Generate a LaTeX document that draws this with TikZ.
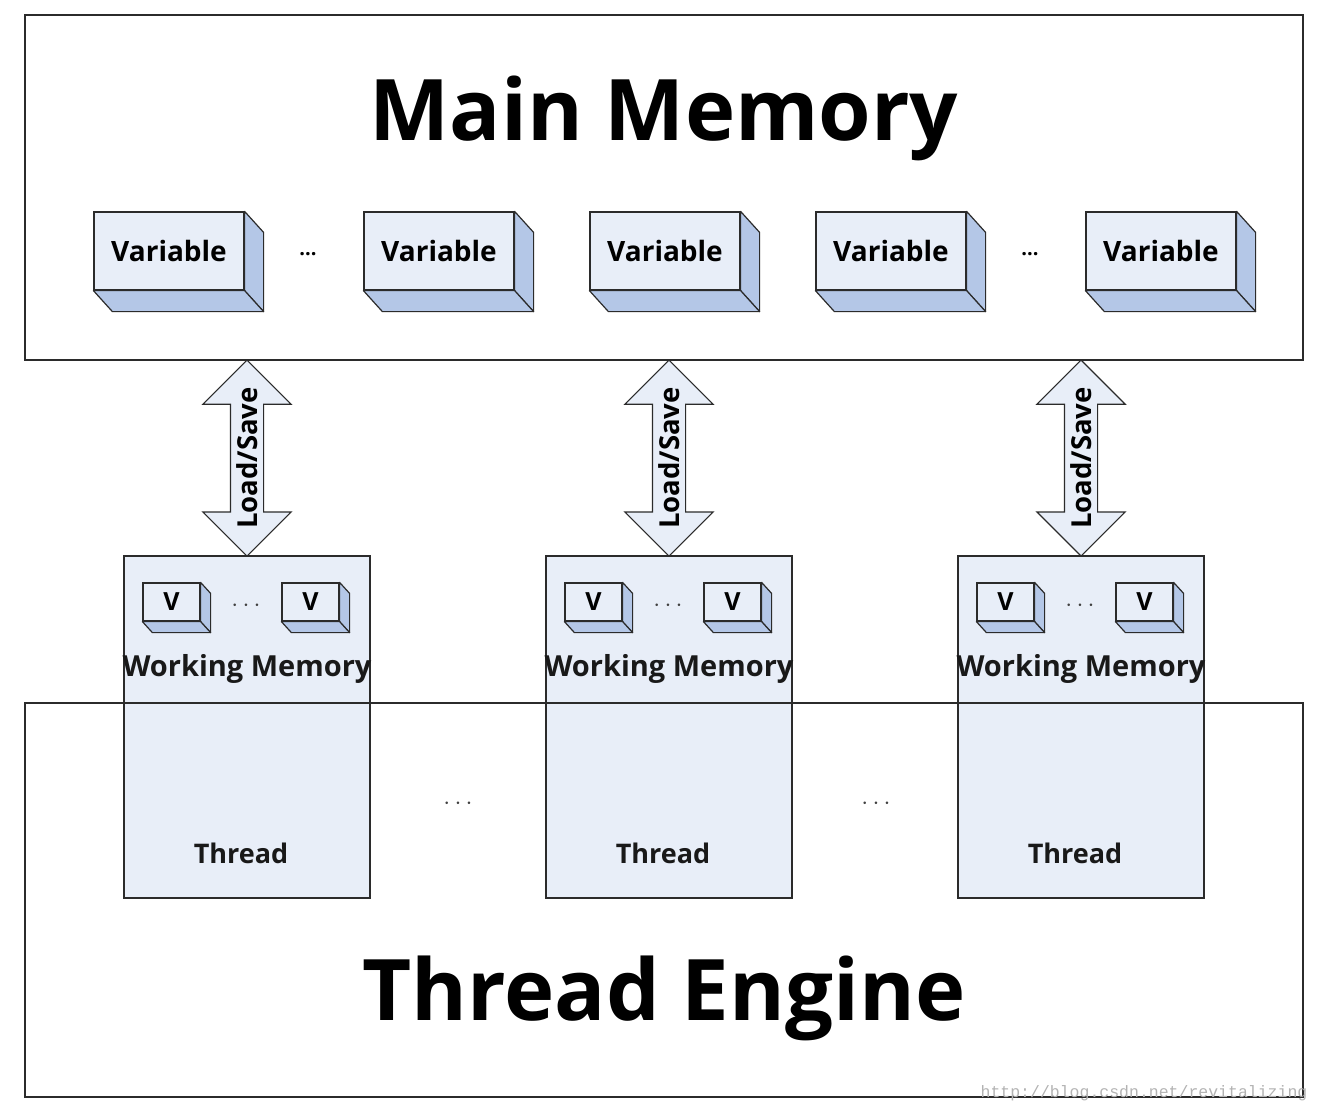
\documentclass[tikz,border=0pt]{standalone}
\usepackage{fontspec}
\setmainfont{Open Sans}
\setmonofont{Liberation Mono}
\usetikzlibrary{positioning,calc,shapes.arrows}

\definecolor{frontc}{HTML}{E8EEF8}
\definecolor{sidec}{HTML}{B4C7E7}
\definecolor{linec}{HTML}{2B2B2B}

\tikzset{
  face/.style={draw=linec, fill=frontc, line width=1.2pt},
  side/.style={draw=linec, fill=sidec, line width=1.2pt, line join=round},
  memrect/.style={draw=linec, line width=1.6pt, inner sep=0pt},
  varbox/.style={face, minimum width=150pt, minimum height=78pt, inner sep=0pt,
    font=\fontsize{28}{28}\selectfont\bfseries},
  vbox/.style={face, minimum width=57pt, minimum height=38pt, inner sep=0pt,
    font=\fontsize{25}{25}\selectfont\bfseries},
  thread/.style={face, minimum width=246pt, minimum height=342pt, inner sep=0pt},
  lsarrow/.style={double arrow, face, double arrow head extend=27.5pt,
    double arrow tip angle=90, minimum height=196pt, inner xsep=0pt, inner ysep=0pt,
    text height=26.5pt, text depth=5.5pt, rotate=90,
    font=\fontsize{27.5}{27.5}\selectfont\bfseries},
  label/.style={anchor=base, inner sep=0pt, text=black!90,
    font=\fontsize{27}{27}\selectfont\bfseries},
  title/.style={anchor=base, inner sep=0pt, font=\fontsize{85}{85}\selectfont\bfseries},
  dots/.style={inner sep=0pt, text=black!75}
}

% right and bottom face of a 3d box
\newcommand\boxsides[3]{%
  \filldraw[side] (#1.north east) -- ++(#2,#3) -- ($(#1.south east)+(#2,#3)$)
    -- (#1.south east) -- cycle;
  \filldraw[side] (#1.south west) -- ++(#2,#3) -- ($(#1.south east)+(#2,#3)$)
    -- (#1.south east) -- cycle;
}

\begin{document}
\begin{tikzpicture}[x=1pt,y=-1pt]
  \useasboundingbox (0,0) rectangle (1320,1112);

  % main memory
  \node[memrect, minimum width=1278pt, minimum height=345pt] (mm) at (664,187.5) {};
  \node[title] (mmtitle) at (664,140) {Main Memory};

  \foreach \n/\x in {1/169,2/439,3/665,4/891,5/1161}{
    \node[varbox] (var\n) at (\x,251) {Variable};
    \boxsides{var\n}{19}{21}
  }
  \node[dots, text=black, font=\fontsize{20}{20}\selectfont\bfseries] (mmdots1) at (308,254) {...};
  \node[dots, text=black, font=\fontsize{20}{20}\selectfont\bfseries] (mmdots2) at (1030,254) {...};

  % threads with working memory
  \foreach \n/\x in {1/247,2/669,3/1081}{
    \node[thread] (t\n) at (\x,727) {};
    \node[vbox, below right=27pt and 19pt of t\n.north west] (va\n) {V};
    \boxsides{va\n}{10}{11}
    \node[vbox, below right=27pt and 158pt of t\n.north west] (vb\n) {V};
    \boxsides{vb\n}{10}{11}
    \node[dots, font=\fontsize{26}{26}\selectfont] (vd\n) at ($(va\n.east)!0.5!(vb\n.west)+(5,4)$) {$\cdots$};
    \node[label, font=\fontsize{29}{29}\selectfont\bfseries] (wm\n) at ($(t\n.north)+(0,121)$) {Working Memory};
    \node[label] (tl\n) at ($(t\n.north)+(-6,308)$) {Thread};
    \node[lsarrow] (ls\n) at ($(t\n.north)!0.5!(t\n.north |- mm.south)$) {Load/Save};
  }

  % thread engine
  \node[memrect, minimum width=1278pt, minimum height=394pt] (te) at (664,900) {};
  \node[title] (tetitle) at (664,1020) {Thread Engine};
  \node[dots, font=\fontsize{30}{30}\selectfont] (tedots1) at (458,804) {$\cdots$};
  \node[dots, font=\fontsize{30}{30}\selectfont] (tedots2) at (876,804) {$\cdots$};

  \node[anchor=base, inner sep=0pt, text=black!30, font=\fontsize{16.5}{16.5}\ttfamily]
    (wmark) at (1144,1097) {http://blog.csdn.net/revitalizing};
\end{tikzpicture}
\end{document}
